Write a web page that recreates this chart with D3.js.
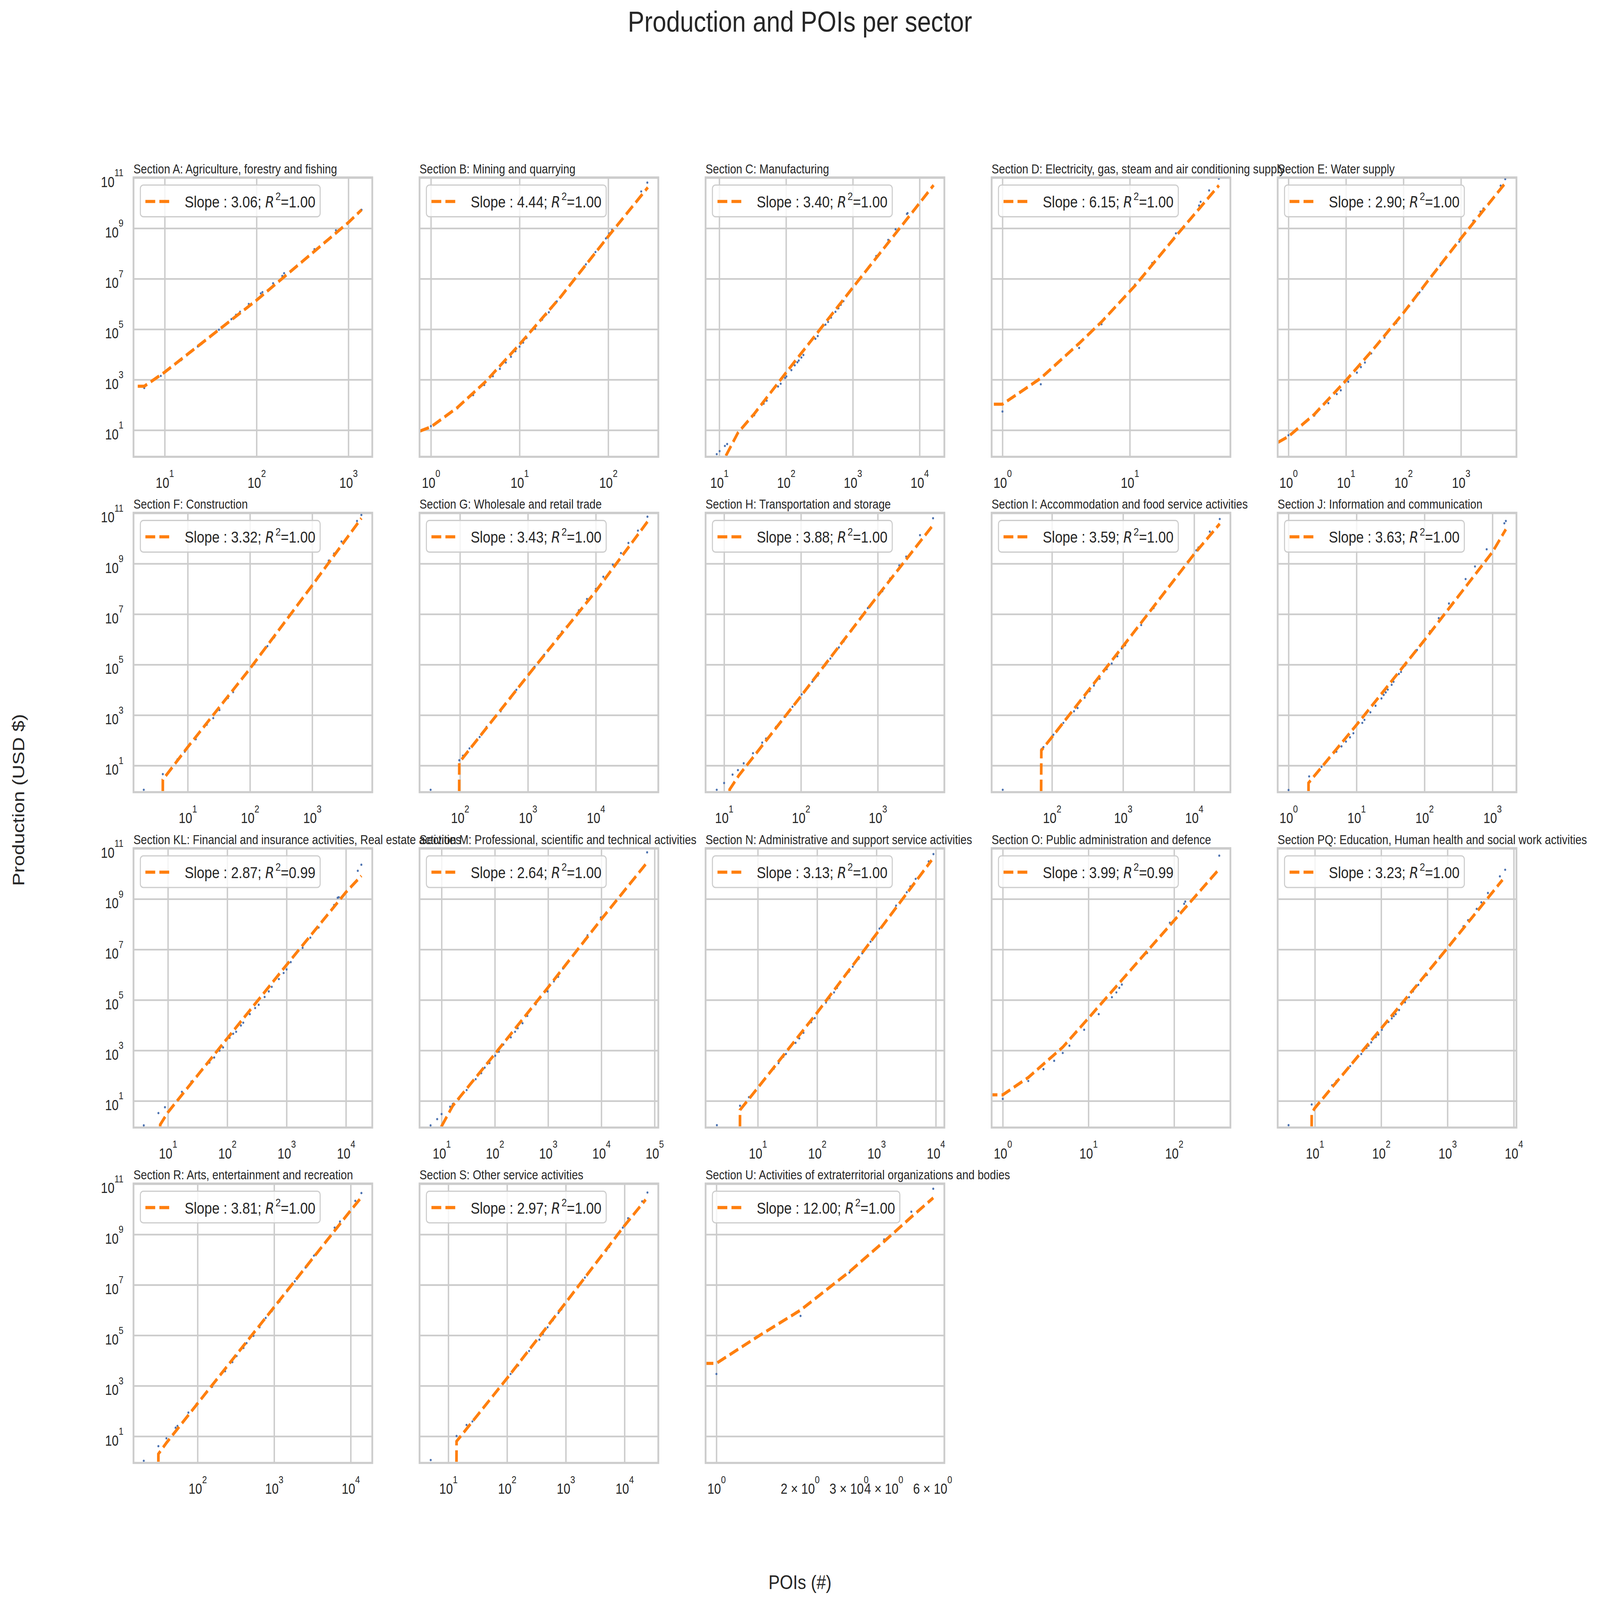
<!DOCTYPE html>
<html>
<head>
<meta charset="utf-8">
<script src="https://cdn.jsdelivr.net/npm/d3@7"></script>
<style>
  html, body { margin: 0; padding: 0; background: #fff; overflow: hidden; }
  #chart svg { display: block; width: 100vw; height: 100vh; }
  text { font-family: "Liberation Sans", Arial, sans-serif; fill: #262626; }
</style>
</head>
<body>
<div id="chart"></div>
<script>
// values, stored as log10(POIs), log10(production)
var sections = ["A", "B", "C", "D", "E", "F", "G", "H", "I", "J", "KL", "M", "N", "O", "PQ", "R", "S", "U"];
var titles = [
  "Section A: Agriculture, forestry and fishing",
  "Section B: Mining and quarrying",
  "Section C: Manufacturing",
  "Section D: Electricity, gas, steam and air conditioning supply",
  "Section E: Water supply",
  "Section F: Construction",
  "Section G: Wholesale and retail trade",
  "Section H: Transportation and storage",
  "Section I: Accommodation and food service activities",
  "Section J: Information and communication",
  "Section KL: Financial and insurance activities, Real estate activities",
  "Section M: Professional, scientific and technical activities",
  "Section N: Administrative and support service activities",
  "Section O: Public administration and defence",
  "Section PQ: Education, Human health and social work activities",
  "Section R: Arts, entertainment and recreation",
  "Section S: Other service activities",
  "Section U: Activities of extraterritorial organizations and bodies"
];
var slopes = [3.06, 4.44, 3.40, 6.15, 2.90, 3.32, 3.43, 3.88, 3.59, 3.63, 2.87, 2.64, 3.13, 3.99, 3.23, 3.81, 2.97, 12.00];
var r2 = [1.00, 1.00, 1.00, 1.00, 1.00, 1.00, 1.00, 1.00, 1.00, 1.00, 0.99, 1.00, 1.00, 0.99, 1.00, 1.00, 1.00, 1.00];

// x limits (log10) of each panel
var xLimits = [
  [0.66, 3.26], [-0.128, 2.565], [0.795, 4.371], [-0.085, 1.79], [-0.1875, 3.965],
  [0.129, 3.965], [1.405, 4.92], [0.759, 3.867], [1.151, 4.51], [-0.16, 3.353],
  [0.42, 4.444], [0.586, 5.07], [0.12, 4.144], [-0.13, 2.657], [0.439, 4.04],
  [1.163, 4.282], [0.51, 4.575], [-0.039, 0.821]
];
var yLimits = [-0.055, 11.015];
var yTicks = [1, 3, 5, 7, 9, 11];
var uMinorTicks = [2, 3, 4, 6];

// scatter points [log10 POIs, log10 production]
var ptsA = [[0.777,2.67],[0.957,3.15],[1.18,3.78],[1.36,4.32],[1.40,4.42],[1.506,4.75],[1.55,4.86],[1.59,4.98],[1.726,5.40],[1.776,5.57],[1.82,5.69],[1.915,6.0],[2.046,6.42],[2.064,6.47],[2.18,6.82],[2.28,7.11],[2.30,7.22],[2.63,8.17],[2.864,8.92],[3.143,9.73]];
var ptsB = [[0,1.16],[0.301,1.87],[0.477,2.39],[0.602,2.79],[0.699,3.14],[0.778,3.43],[0.845,3.68],[0.903,3.91],[0.954,4.13],[1.0,4.31],[1.041,4.47],[1.079,4.65],[1.176,5.02],[1.255,5.38],[1.301,5.58],[1.33,5.67],[1.362,5.85],[1.394,5.99],[1.42,6.10],[1.467,6.29],[1.748,7.57],[1.817,7.89],[1.856,8.06],[1.925,8.35],[1.974,8.60],[2.01,8.80],[2.043,8.94],[2.372,10.46],[2.441,10.81]];
var ptsC = [[0.962,0.05],[1.005,0.17],[1.084,0.375],[1.118,0.45],[1.28,0.88],[1.524,1.59],[1.665,2.05],[1.71,2.17],[1.88,2.73],[1.92,2.84],[1.985,3.07],[2.005,3.13],[2.08,3.38],[2.13,3.57],[2.17,3.69],[2.19,3.76],[2.23,3.88],[2.26,3.98],[2.44,4.62],[2.475,4.73],[2.59,5.18],[2.63,5.29],[2.675,5.46],[2.74,5.69],[2.785,5.83],[2.82,5.97],[2.86,6.11],[2.96,6.50],[2.98,6.57],[3.24,7.48],[3.35,7.90],[3.53,8.54],[3.64,8.96],[3.81,9.57],[3.82,9.60]];
var ptsD = [[0,1.74],[0.301,2.82],[0.602,4.26],[0.778,5.20],[1.04,6.77],[1.176,7.62],[1.362,8.80],[1.544,9.90],[1.556,10.05],[1.623,10.50],[1.699,10.97]];
var ptsE = [[0,0.80],[0.451,1.58],[0.694,2.07],[0.84,2.43],[0.91,2.58],[1.04,2.92],[1.19,3.28],[1.26,3.50],[1.33,3.68],[1.44,4.04],[1.67,4.67],[1.875,5.25],[2.10,5.92],[2.17,6.12],[2.28,6.46],[2.33,6.59],[2.64,7.53],[2.97,8.47],[3.215,9.30],[3.34,9.66],[3.39,9.78],[3.69,10.69],[3.77,10.95]];
var ptsF = [[0.294,0.04],[0.6,0.66],[0.835,1.24],[0.953,1.55],[1.13,2.04],[1.306,2.62],[1.41,2.88],[1.51,3.20],[1.647,3.68],[1.73,3.91],[2.07,5.02],[2.18,5.46],[2.28,5.73],[2.39,6.08],[2.53,6.57],[2.63,6.96],[3.09,8.48],[3.265,9.12],[3.35,9.40],[3.47,9.88],[3.72,10.69],[3.79,10.93]];
var ptsG = [[1.568,0.04],[1.99,1.21],[2.043,1.39],[2.14,1.68],[2.29,2.13],[2.39,2.53],[2.53,2.96],[2.60,3.15],[2.665,3.42],[2.746,3.67],[2.83,4.0],[2.92,4.32],[3.02,4.62],[3.10,4.91],[3.17,5.15],[3.24,5.39],[3.36,5.77],[3.45,6.13],[3.50,6.31],[3.57,6.51],[3.75,7.15],[3.87,7.60],[4.0,8.0],[4.11,8.48],[4.25,8.96],[4.37,9.42],[4.48,9.82],[4.62,10.31],[4.76,10.86]];
var ptsH = [[0.904,0.04],[1.0,0.31],[1.11,0.64],[1.18,0.82],[1.255,1.09],[1.376,1.49],[1.496,1.91],[1.545,2.07],[1.675,2.53],[1.786,2.93],[1.843,3.15],[1.89,3.33],[1.94,3.51],[2.01,3.82],[2.09,4.08],[2.147,4.32],[2.22,4.57],[2.316,4.97],[2.383,5.24],[2.494,5.68],[2.556,5.92],[2.66,6.35],[2.78,6.87],[2.87,7.24],[3.01,7.79],[3.06,7.91],[3.16,8.41],[3.28,8.93],[3.37,9.28],[3.55,10.13],[3.72,10.80]];
var ptsI = [[1.307,0.04],[1.85,1.64],[1.88,1.73],[2.02,2.22],[2.16,2.69],[2.31,3.15],[2.36,3.28],[2.46,3.69],[2.53,3.95],[2.59,4.17],[2.67,4.44],[2.77,4.82],[2.84,5.04],[2.92,5.33],[2.98,5.64],[3.03,5.77],[3.19,6.40],[3.255,6.57],[3.43,7.24],[3.70,8.27],[3.79,8.62],[3.91,9.08],[4.03,9.53],[4.06,9.64],[4.22,10.27],[4.36,10.77]];
var ptsJ = [[0,0.03],[0.303,0.57],[0.485,0.95],[0.704,1.55],[0.779,1.76],[0.845,1.95],[0.904,2.12],[0.954,2.28],[1.085,2.69],[1.117,2.81],[1.204,3.11],[1.28,3.37],[1.367,3.66],[1.40,3.80],[1.43,3.90],[1.46,4.01],[1.517,4.20],[1.545,4.32],[1.623,4.63],[1.655,4.71],[1.717,4.97],[1.82,5.35],[1.89,5.58],[1.977,5.92],[2.08,6.32],[2.21,6.84],[2.36,7.42],[2.605,8.39],[2.743,8.89],[2.915,9.57],[3.175,10.60],[3.197,10.69]];
var ptsKL = [[0.593,0.03],[0.84,0.52],[0.95,0.75],[1.235,1.36],[1.395,1.77],[1.58,2.23],[1.70,2.52],[1.78,2.72],[1.87,2.99],[1.93,3.12],[2.04,3.50],[2.10,3.66],[2.15,3.74],[2.23,3.99],[2.27,4.10],[2.38,4.44],[2.47,4.68],[2.53,4.81],[2.63,5.12],[2.70,5.34],[2.75,5.52],[2.87,5.83],[2.95,6.07],[3.0,6.21],[3.07,6.50],[3.27,7.07],[3.40,7.47],[3.54,7.87],[3.80,8.76],[3.86,9.05],[3.88,9.07],[4.20,10.12],[4.26,10.36]];
var ptsM = [[0.793,0.03],[0.917,0.28],[1.0,0.48],[1.16,0.77],[1.21,0.88],[1.33,1.08],[1.47,1.43],[1.64,1.86],[1.745,2.10],[1.81,2.32],[1.90,2.50],[2.007,2.79],[2.076,2.95],[2.16,3.23],[2.30,3.52],[2.38,3.74],[2.43,3.88],[2.52,4.08],[2.61,4.37],[2.77,4.83],[2.85,5.08],[2.99,5.34],[3.11,5.74],[3.19,5.92],[3.28,6.25],[3.64,7.25],[3.69,7.39],[3.74,7.56],[3.99,8.27],[4.86,10.85]];
var ptsN = [[0.31,0.04],[0.70,0.81],[0.85,1.15],[1.27,2.28],[1.35,2.50],[1.43,2.75],[1.474,2.86],[1.636,3.30],[1.70,3.48],[1.77,3.70],[1.90,4.12],[1.96,4.28],[2.15,4.90],[2.21,5.08],[2.285,5.30],[2.335,5.48],[2.46,5.92],[2.535,6.12],[2.60,6.32],[2.70,6.63],[2.76,6.85],[2.90,7.31],[3.05,7.83],[3.10,7.94],[3.33,8.74],[3.51,9.27],[3.57,9.50],[3.66,9.80],[3.88,10.49],[3.96,10.78]];
var ptsO = [[0,1.08],[0.298,1.79],[0.475,2.26],[0.60,2.59],[0.70,2.90],[0.778,3.19],[0.95,3.82],[1.12,4.44],[1.274,5.11],[1.326,5.30],[1.36,5.48],[1.39,5.61],[1.685,6.86],[1.78,7.30],[1.95,8.06],[2.05,8.52],[2.117,8.81],[2.13,8.90],[2.527,10.72]];
var ptsPQ = [[0.603,0.04],[0.952,0.86],[1.26,1.62],[1.324,1.79],[1.532,2.38],[1.70,2.86],[1.78,3.10],[1.81,3.19],[1.85,3.32],[1.92,3.53],[1.96,3.63],[2.01,3.82],[2.11,4.13],[2.16,4.27],[2.19,4.36],[2.22,4.44],[2.27,4.60],[2.36,4.91],[2.42,5.11],[2.48,5.34],[2.56,5.60],[2.65,5.94],[2.69,5.99],[2.79,6.37],[2.88,6.66],[3.24,7.92],[3.31,8.16],[3.44,8.61],[3.51,8.87],[3.61,9.24],[3.79,9.90],[3.87,10.16]];
var ptsR = [[1.297,0.03],[1.488,0.61],[1.593,0.92],[1.713,1.34],[1.737,1.41],[1.88,1.94],[1.986,2.28],[2.12,2.74],[2.19,2.96],[2.25,3.23],[2.36,3.58],[2.455,3.94],[2.51,4.18],[2.60,4.50],[2.64,4.69],[2.73,4.98],[2.81,5.32],[2.89,5.69],[2.97,5.96],[3.07,6.34],[3.17,6.75],[3.27,7.14],[3.41,7.69],[3.52,8.16],[3.79,9.27],[3.86,9.51],[4.06,10.33],[4.14,10.64]];
var ptsS = [[0.70,0.06],[1.14,1.01],[1.31,1.45],[1.41,1.59],[1.80,2.73],[1.95,3.14],[2.06,3.47],[2.11,3.61],[2.19,3.81],[2.25,4.03],[2.375,4.38],[2.55,4.83],[2.61,5.05],[2.69,5.32],[2.78,5.60],[2.875,5.89],[2.925,6.03],[3.075,6.52],[3.325,7.29],[3.69,8.35],[3.74,8.51],[3.875,9.0],[3.97,9.27],[4.06,9.64],[4.30,10.31],[4.39,10.66]];
var ptsU = [[0,3.47],[0.303,5.77],[0.479,7.49],[0.604,8.80],[0.702,9.90],[0.781,10.81]];

// fitted curves; null x = zero POIs, null y = non-positive fit (clipped like matplotlib)
var fitA = [[null,2.72],[0.777,2.74],[1.0,3.30],[2.0,6.15],[3.0,9.23],[3.143,9.73]];
var fitB = [[-0.128,0.96],[0,1.13],[0.297,1.89],[0.616,2.92],[1.0,4.40],[1.463,6.28],[1.994,8.65],[2.447,10.62]];
var fitC = [[0.962,null],[1.09,-0.06],[1.28,0.9],[1.524,1.65],[2.0,3.28],[3.0,6.65],[4.0,10.0],[4.21,10.71]];
var fitD = [[null,2.03],[0,2.03],[0.301,3.06],[0.602,4.44],[0.778,5.29],[1.04,6.72],[1.362,8.69],[1.70,10.70]];
var fitE = [[-0.1875,0.51],[0,0.75],[0.451,1.63],[1.0,2.97],[1.48,4.22],[2.0,5.65],[2.45,6.99],[3.0,8.60],[3.77,10.79]];
var fitF = [[0.294,null],[0.6,0.44],[1.0,1.73],[2.0,4.84],[3.0,8.14],[3.79,10.8]];
var fitG = [[1.568,null],[1.99,1.12],[2.1,1.5],[3.0,4.57],[4.0,7.91],[4.76,10.66]];
var fitH = [[1.0,null],[1.072,0.05],[1.19,0.6],[2.0,3.75],[3.0,7.73],[3.72,10.53]];
var fitI = [[1.307,null],[1.85,1.6],[2.0,2.13],[3.0,5.73],[4.0,9.38],[4.36,10.58]];
var fitJ = [[0,null],[0.294,0.31],[1.0,2.61],[2.0,5.97],[3.0,9.46],[3.197,10.36]];
var fitKL = [[0.593,null],[0.87,0.06],[1.0,0.55],[2.0,3.48],[3.0,6.39],[4.0,9.27],[4.26,9.92]];
var fitM = [[0.917,null],[1.0,0.0],[1.21,0.81],[2.0,2.86],[3.0,5.5],[4.0,8.2],[4.86,10.45]];
var fitN = [[0.31,null],[0.70,0.64],[1.0,1.52],[2.0,4.5],[3.0,7.62],[3.93,10.54]];
var fitO = [[null,1.24],[0,1.24],[0.298,1.93],[0.70,3.13],[1.0,4.28],[1.39,5.79],[2.0,8.15],[2.527,10.19]];
var fitPQ = [[0.603,null],[0.952,0.52],[1.0,0.72],[2.0,3.87],[3.0,7.06],[3.83,9.76]];
var fitR = [[1.297,null],[1.488,0.30],[1.593,0.74],[2.0,2.30],[3.0,6.12],[4.0,9.95],[4.14,10.47]];
var fitS = [[0.70,null],[1.14,0.80],[2.0,3.3],[3.0,6.3],[4.0,9.35],[4.36,10.38]];
var fitU = [[null,3.89],[0,3.89],[0.147,4.94],[0.303,6.0],[0.479,7.52],[0.604,8.72],[0.702,9.69],[0.781,10.45]];

var points = [ptsA, ptsB, ptsC, ptsD, ptsE, ptsF, ptsG, ptsH, ptsI, ptsJ, ptsKL, ptsM, ptsN, ptsO, ptsPQ, ptsR, ptsS, ptsU];
var fits = [fitA, fitB, fitC, fitD, fitE, fitF, fitG, fitH, fitI, fitJ, fitKL, fitM, fitN, fitO, fitPQ, fitR, fitS, fitU];

var W = 5381, H = 4599;
var size = 803, left0 = 449, top0 = 510, colStep = 962, rowStep = 964;
var gridColor = "#cccccc";
var blue = "#4c72b0", orange = "#ff7f0e";

// drawn in a 5381x4599 coordinate space, stretched to whatever the window is
var svg = d3.select("#chart").append("svg")
  .attr("viewBox", "0 0 " + W + " " + H)
  .attr("preserveAspectRatio", "none");

svg.append("rect").attr("width", W).attr("height", H).attr("fill", "#fff");

function val(v) {
  // matplotlib clips non-positive values on a log axis to a tiny number
  return v === null ? 1e-300 : Math.pow(10, v);
}

var y = d3.scaleLog()
  .domain([Math.pow(10, yLimits[0]), Math.pow(10, yLimits[1])])
  .range([size, 0]);

function powerLabel(sel, base, expo, supSize, raise) {
  sel.text(null);
  sel.append("tspan").text(base);
  sel.append("tspan").attr("font-size", supSize).attr("dy", -raise).text(expo);
}

sections.forEach(function(sec, i) {
  var col = i % 5, row = Math.floor(i / 5);
  var g = svg.append("g")
    .attr("transform", "translate(" + (left0 + col * colStep) + "," + (top0 + row * rowStep) + ")");

  var x = d3.scaleLog()
    .domain([Math.pow(10, xLimits[i][0]), Math.pow(10, xLimits[i][1])])
    .range([0, size]);

  var xMajors = d3.range(Math.ceil(xLimits[i][0]), Math.floor(xLimits[i][1]) + 1)
    .map(function(e) { return Math.pow(10, e); });

  var clipId = "clip" + sec;
  g.append("clipPath").attr("id", clipId)
    .append("rect").attr("width", size).attr("height", size);

  // grid
  var gx = g.append("g").attr("transform", "translate(0," + size + ")")
    .call(d3.axisBottom(x).tickValues(xMajors).tickSize(-size).tickFormat(""));
  gx.select(".domain").remove();
  gx.selectAll("line").attr("stroke", gridColor).attr("stroke-width", 4.8);

  var gy = g.append("g")
    .call(d3.axisLeft(y).tickValues(yTicks.map(function(e) { return Math.pow(10, e); })).tickSize(-size).tickFormat(""));
  gy.select(".domain").remove();
  gy.selectAll("line").attr("stroke", gridColor).attr("stroke-width", 4.8);

  var plot = g.append("g").attr("clip-path", "url(#" + clipId + ")");

  plot.selectAll("circle")
    .data(points[i])
    .join("circle")
    .attr("cx", function(d) { return x(val(d[0])); })
    .attr("cy", function(d) { return y(val(d[1])); })
    .attr("r", 3.3)
    .attr("fill", blue);

  var line = d3.line()
    .x(function(d) { return x(val(d[0])); })
    .y(function(d) { return y(val(d[1])); });

  plot.append("path")
    .datum(fits[i])
    .attr("d", line)
    .attr("fill", "none")
    .attr("stroke", orange)
    .attr("stroke-width", 9)
    .attr("stroke-dasharray", "33,14");

  // spines
  g.append("rect")
    .attr("width", size).attr("height", size)
    .attr("fill", "none")
    .attr("stroke", gridColor)
    .attr("stroke-width", 6);

  // legend
  var leg = g.append("g").attr("transform", "translate(23,22)");
  var box = leg.append("rect")
    .attr("height", 91)
    .attr("rx", 10)
    .attr("fill", "#fff")
    .attr("fill-opacity", 0.8)
    .attr("stroke", gridColor)
    .attr("stroke-width", 3.5);
  leg.append("line")
    .attr("x1", 17).attr("x2", 111).attr("y1", 47).attr("y2", 47)
    .attr("stroke", orange)
    .attr("stroke-width", 9)
    .attr("stroke-dasharray", "33,14");
  var lt = leg.append("text").attr("x", 149).attr("y", 64).attr("font-size", 46);
  lt.append("tspan").text("Slope : " + slopes[i].toFixed(2) + "; ");
  lt.append("tspan").attr("font-style", "italic").attr("font-family", "DejaVu Sans").attr("font-size", 44).text("R");
  lt.append("tspan").attr("font-size", 32).attr("dy", -21).attr("dx", 4).text("2");
  lt.append("tspan").attr("dy", 21).text("=" + r2[i].toFixed(2));
  box.attr("width", 149 + lt.node().getComputedTextLength() + 20);

  // title
  g.append("text")
    .attr("x", 0).attr("y", -12)
    .attr("font-size", 37)
    .text(titles[i]);

  // x tick labels
  var xl = g.append("g").attr("transform", "translate(0," + size + ")")
    .call(d3.axisBottom(x).tickValues(xMajors).tickSize(0).tickFormat(""));
  xl.select(".domain").remove();
  xl.attr("font-size", null).attr("font-family", null);
  xl.selectAll(".tick text")
    .attr("y", 89).attr("dy", null).attr("font-size", 41)
    .each(function(d) {
      powerLabel(d3.select(this), "10", Math.round(Math.log10(d)), 29, 31);
    });

  if (sec === "U") {
    var xm = g.append("g").attr("transform", "translate(0," + size + ")")
      .call(d3.axisBottom(x).tickValues(uMinorTicks).tickSize(0).tickFormat(""));
    xm.select(".domain").remove();
    xm.attr("font-size", null).attr("font-family", null);
    xm.selectAll(".tick text")
      .attr("y", 89).attr("dy", null).attr("font-size", 41)
      .each(function(d) {
        powerLabel(d3.select(this), d + " \u00d7 10", "0", 29, 31);
      });
  }

  // y tick labels on first column only (shared y)
  if (col === 0) {
    var yl = g.append("g")
      .call(d3.axisLeft(y).tickValues(yTicks.map(function(e) { return Math.pow(10, e); })).tickSize(0).tickFormat(""));
    yl.select(".domain").remove();
    yl.attr("font-size", null).attr("font-family", null);
    yl.selectAll(".tick text")
      .attr("x", -34).attr("y", 26).attr("dy", null).attr("font-size", 41)
      .each(function(d) {
        powerLabel(d3.select(this), "10", Math.round(Math.log10(d)), 29, 31);
      });
  }
});

svg.append("text")
  .attr("x", W / 2).attr("y", 91)
  .attr("text-anchor", "middle")
  .attr("font-size", 83)
  .text("Production and POIs per sector");

svg.append("text")
  .attr("x", W / 2).attr("y", 4568)
  .attr("text-anchor", "middle")
  .attr("font-size", 57)
  .text("POIs (#)");

svg.append("text")
  .attr("transform", "translate(82," + (H / 2) + ") rotate(-90)")
  .attr("text-anchor", "middle")
  .attr("font-size", 57)
  .text("Production (USD $)");
</script>
</body>
</html>
